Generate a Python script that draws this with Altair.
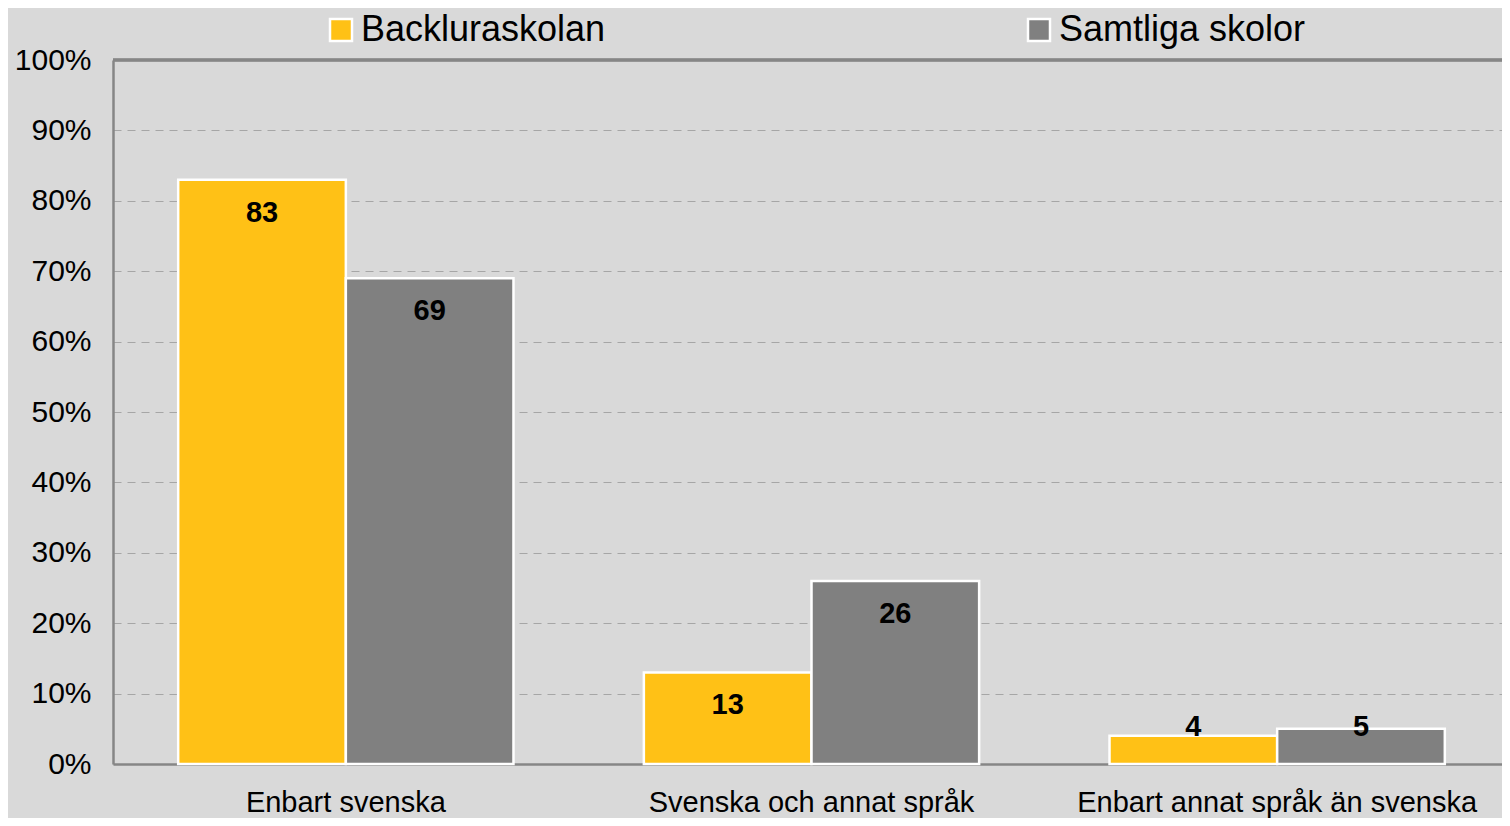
import altair as alt
import pandas as pd

categories = ["Enbart svenska", "Svenska och annat språk", "Enbart annat språk än svenska"]
series = ["Backluraskolan", "Samtliga skolor"]
backlura = [83, 13, 4]
samtliga = [69, 26, 5]
y_ticks = [0, 10, 20, 30, 40, 50, 60, 70, 80, 90, 100]
colors = ["#FFC116", "#808080"]

rows = []
for c, v in zip(categories, backlura):
    rows.append({"kategori": c, "serie": series[0], "value": v})
for c, v in zip(categories, samtliga):
    rows.append({"kategori": c, "serie": series[1], "value": v})
df = pd.DataFrame(rows)

FONT = "Liberation Sans"
AXIS_GRAY = "#868686"

x_scale = alt.Scale(paddingInner=0.28, paddingOuter=0.14, range=[0, 1397])
x_enc = alt.X("kategori:N", sort=categories, title=None, scale=x_scale,
              axis=alt.Axis(labelAngle=0, labelFontSize=29, labelColor="black",
                            labelFont=FONT, labelPadding=24, ticks=False, labelLimit=0,
                            domainColor=AXIS_GRAY, domainWidth=2.5))
xoff = alt.XOffset("serie:N", sort=series)
y_scale = alt.Scale(domain=[0, 100], nice=False)

bars = alt.Chart(df).mark_bar(stroke="white", strokeWidth=2.5).encode(
    x=x_enc,
    xOffset=xoff,
    y=alt.Y("value:Q", scale=y_scale, title=None,
            axis=alt.Axis(values=y_ticks, labelExpr="datum.value + '%'",
                          labelFontSize=30, labelColor="black", labelFont=FONT,
                          labelPadding=22, ticks=False, grid=True,
                          gridColor="#a6a6a6", gridDash=[8, 6], gridWidth=1.2,
                          domainColor=AXIS_GRAY, domainWidth=2.5)),
    color=alt.Color("serie:N", sort=series,
                    scale=alt.Scale(domain=series, range=colors),
                    legend=alt.Legend(title=None, orient="none", direction="horizontal",
                                      legendX=210, legendY=-48,
                                      symbolType="square", symbolSize=484,
                                      symbolStrokeColor="white", symbolStrokeWidth=2.5,
                                      symbolOpacity=1,
                                      labelFontSize=36, labelFont=FONT, labelColor="black",
                                      labelOffset=2, columnPadding=415, labelLimit=0)),
)

top_line = alt.Chart(df).mark_rule(color=AXIS_GRAY, strokeWidth=2.5).encode(
    y=alt.datum(100),
)

labels = alt.Chart(df).transform_calculate(
    labelv="max(datum.value, 10)"
).mark_text(fontSize=29, fontWeight="bold", font=FONT, color="black",
            baseline="middle", dy=33).encode(
    x=alt.X("kategori:N", sort=categories, scale=x_scale),
    xOffset=xoff,
    y=alt.Y("labelv:Q", scale=y_scale),
    text=alt.Text("value:Q"),
)

chart = alt.layer(top_line, bars, labels).properties(
    width=1389, height=704,
    background="#d9d9d9",
    padding={"left": 105, "top": 52, "right": 0, "bottom": 54},
    autosize=alt.AutoSizeParams(type="none"),
).configure_view(stroke=None)

chart.save("out.html", embed_options={"renderer": "svg", "actions": False})
